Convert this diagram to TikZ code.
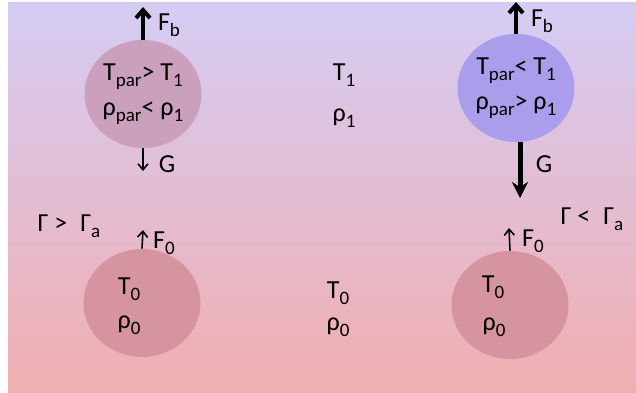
\documentclass[tikz,border=0pt]{standalone}
\usepackage{fontspec}
\setmainfont{Carlito}
\usetikzlibrary{arrows.meta,positioning,shapes.geometric}
\definecolor{SkyTop}{RGB}{213,204,244}
\definecolor{SkyBottom}{RGB}{241,174,176}
\definecolor{WarmParcel}{RGB}{202,160,188}
\definecolor{ColdParcel}{RGB}{170,158,236}
\definecolor{BaseParcel}{RGB}{213,148,160}
\newcommand{\lo}[1]{\raisebox{-0.45ex}{\fontsize{9.5}{9.5}\selectfont #1}}
\tikzset{
  parcel/.style={ellipse,minimum width=58.5pt,minimum height=54pt,inner sep=0pt,
    align=center,font=\fontsize{13}{17.5}\selectfont},
  lbl/.style={font=\fontsize{13}{17.5}\selectfont,inner sep=1pt},
  thinforce/.style={-{Straight Barb[length=3pt,width=5pt]},line width=0.8pt},
  force/.style={-{Straight Barb[length=4pt,width=7pt]},line width=2pt},
  bigforce/.style={-{Stealth[length=8pt,width=8pt]},line width=2.5pt}
}

\begin{document}
\begin{tikzpicture}[x=0.5pt,y=-0.5pt]
  \useasboundingbox (0,0) rectangle (636,392);
  \shade[top color=SkyTop,bottom color=SkyBottom] (8,2) rectangle (636,392);
  % upper level, warm parcel on the left, cold parcel on the right
  \node[parcel,fill=WarmParcel] (warm) at (143,94) {T\lo{par}> T\lo{1}\\ρ\lo{par}< ρ\lo{1}};
  \node[parcel,fill=ColdParcel] (cold) at (516,88) {T\lo{par}< T\lo{1}\\ρ\lo{par}> ρ\lo{1}};
  \coordinate (warmup) at (143,7);
  \coordinate (warmdown) at (143,171);
  \coordinate (coldup) at (516,2);
  \coordinate (colddown) at (520,198);
  \draw[force] (warm.north) -- (warmup);
  \draw[thinforce] (warm.south) -- (warmdown);
  \draw[force] (cold.north) -- (coldup);
  \draw[bigforce] ([xshift=2pt]cold.south) -- (colddown);
  \node[lbl] (fbL) at (169,25) {F\lo{b}};
  \node[lbl] (gL) at (167,164) {G};
  \node[lbl] (fbR) at (542,21) {F\lo{b}};
  \node[lbl] (gR) at (544,164) {G};
  % environment in the middle
  \node[lbl] (t1) at (344,75) {T\lo{1}};
  \node[lbl] (r1) at (344,118) {ρ\lo{1}};
  \node[lbl] (t0) at (338,293) {T\lo{0}};
  \node[lbl] (r0) at (338,327) {ρ\lo{0}};
  % lower level, parcels at the start
  \node[parcel,fill=BaseParcel] (baseL) at (142,303) {};
  \node[parcel,fill=BaseParcel] (baseR) at (510,305) {};
  \node[lbl] (t0L) at (129,289) {T\lo{0}};
  \node[lbl] (r0L) at (129,325) {ρ\lo{0}};
  \node[lbl] (t0R) at (493,287) {T\lo{0}};
  \node[lbl] (r0R) at (494,327) {ρ\lo{0}};
  \coordinate (baseLup) at (143,230);
  \coordinate (baseRup) at (509,228);
  \draw[thinforce] (baseL.north) -- (baseLup);
  \draw[thinforce] (baseR.north) -- (baseRup);
  \node[lbl] (f0L) at (164,243) {F\lo{0}};
  \node[lbl] (f0R) at (533,241) {F\lo{0}};
  \node[lbl] (gamL) at (69,226) {Γ >\enspace Γ\lo{a}};
  \node[lbl] (gamR) at (592,219) {Γ <\enspace Γ\lo{a}};
\end{tikzpicture}
\end{document}
